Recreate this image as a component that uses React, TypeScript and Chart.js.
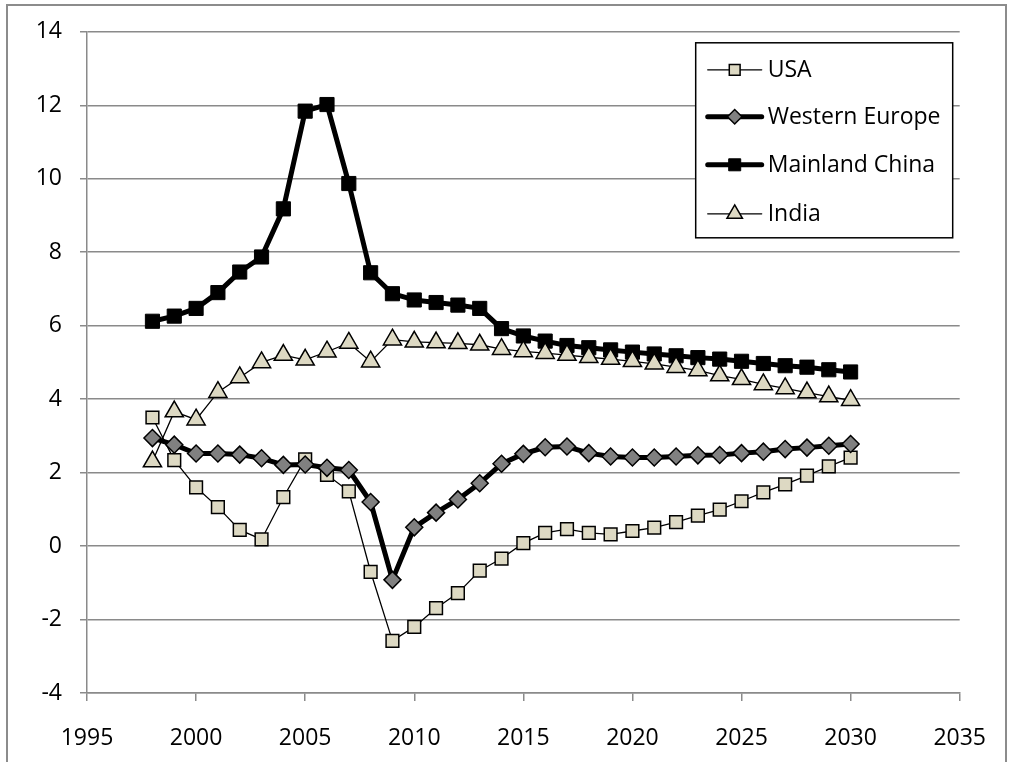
import React, { useEffect, useRef } from "react";
import { Chart, registerables } from "chart.js";

Chart.register(...registerables);

const years = [1998, 1999, 2000, 2001, 2002, 2003, 2004, 2005, 2006, 2007, 2008, 2009, 2010, 2011, 2012, 2013, 2014, 2015, 2016, 2017, 2018, 2019, 2020, 2021, 2022, 2023, 2024, 2025, 2026, 2027, 2028, 2029, 2030];

const usa = [3.5, 2.34, 1.6, 1.06, 0.44, 0.18, 1.33, 2.36, 1.94, 1.49, -0.7, -2.58, -2.2, -1.69, -1.28, -0.67, -0.34, 0.08, 0.36, 0.46, 0.36, 0.32, 0.41, 0.5, 0.65, 0.83, 0.99, 1.22, 1.46, 1.68, 1.92, 2.17, 2.41];

const westernEurope = [2.94, 2.76, 2.52, 2.52, 2.49, 2.39, 2.21, 2.22, 2.13, 2.07, 1.2, -0.92, 0.51, 0.91, 1.27, 1.71, 2.24, 2.51, 2.69, 2.71, 2.53, 2.44, 2.41, 2.41, 2.44, 2.47, 2.48, 2.53, 2.57, 2.64, 2.68, 2.73, 2.78];

const mainlandChina = [6.12, 6.26, 6.47, 6.9, 7.46, 7.87, 9.18, 11.84, 12.02, 9.87, 7.44, 6.87, 6.7, 6.63, 6.56, 6.47, 5.92, 5.72, 5.58, 5.46, 5.4, 5.34, 5.28, 5.23, 5.18, 5.13, 5.09, 5.03, 4.97, 4.91, 4.87, 4.8, 4.74];

const india = [2.3, 3.66, 3.44, 4.19, 4.59, 5.0, 5.2, 5.07, 5.29, 5.53, 5.02, 5.62, 5.56, 5.54, 5.52, 5.48, 5.36, 5.3, 5.25, 5.2, 5.14, 5.09, 5.03, 4.96, 4.87, 4.78, 4.64, 4.54, 4.4, 4.29, 4.18, 4.07, 3.97];

const xTickValues = [1995, 2000, 2005, 2010, 2015, 2020, 2025, 2030, 2035];
const yTickValues = [-4, -2, 0, 2, 4, 6, 8, 10, 12, 14];

const seriesLabels = ["USA", "Western Europe", "Mainland China", "India"];

const FONT = "'Open Sans', sans-serif";
const TAN = "#DDD9C3";
const GRID = "#8a8a8a";

const toPoints = (vals: number[]) => years.map((y, i) => ({ x: y, y: vals[i] }));

function drawMarker(ctx: CanvasRenderingContext2D, style: string, r: number, x: number, y: number) {
  ctx.beginPath();
  if (style === "rect") {
    const s = Math.SQRT1_2 * r;
    ctx.rect(x - s, y - s, 2 * s, 2 * s);
  } else if (style === "rectRot") {
    ctx.moveTo(x - r, y);
    ctx.lineTo(x, y - r);
    ctx.lineTo(x + r, y);
    ctx.lineTo(x, y + r);
    ctx.closePath();
  } else if (style === "triangle") {
    const a = (2 * Math.PI) / 3;
    ctx.moveTo(x, y - r);
    ctx.lineTo(x + Math.sin(a) * r, y - Math.cos(a) * r);
    ctx.lineTo(x + Math.sin(2 * a) * r, y - Math.cos(2 * a) * r);
    ctx.closePath();
  }
  ctx.fill();
  ctx.stroke();
}

const framePlugin = {
  id: "frame",
  beforeDraw(chart: any) {
    const ctx = chart.ctx;
    ctx.save();
    ctx.fillStyle = "#ffffff";
    ctx.fillRect(0, 0, chart.width, chart.height);
    ctx.strokeStyle = "#8c8c8c";
    ctx.lineWidth = 2;
    ctx.strokeRect(7, 5, 999, 800);
    ctx.restore();
  },
};

const legendPlugin = {
  id: "customLegend",
  afterDraw(chart: any) {
    const ctx = chart.ctx;
    const area = chart.chartArea;
    const x0 = area.right - 264;
    const y0 = area.top + 11;
    const w = 257;
    const h = 195;
    ctx.save();
    ctx.fillStyle = "#ffffff";
    ctx.fillRect(x0, y0, w, h);
    ctx.strokeStyle = "#000000";
    ctx.lineWidth = 1.5;
    ctx.strokeRect(x0, y0, w, h);
    const rows = [27, 74, 122, 171];
    chart.data.datasets.forEach((ds: any, k: number) => {
      const cy = y0 + rows[k];
      const lx0 = x0 + 12;
      const lx1 = x0 + 66;
      ctx.strokeStyle = "#000";
      ctx.lineWidth = ds.borderWidth;
      ctx.lineCap = "round";
      ctx.beginPath();
      ctx.moveTo(lx0, cy);
      ctx.lineTo(lx1, cy);
      ctx.stroke();
      ctx.lineCap = "butt";
      ctx.fillStyle = ds.pointBackgroundColor;
      ctx.strokeStyle = ds.pointBorderColor;
      ctx.lineWidth = ds.pointBorderWidth;
      drawMarker(ctx, ds.pointStyle, ds.pointRadius * 0.85, (lx0 + lx1) / 2, cy);
      ctx.fillStyle = "#000";
      ctx.font = `23px ${FONT}`;
      ctx.textBaseline = "middle";
      ctx.textAlign = "left";
      ctx.fillText(ds.label, x0 + 72, cy + 1);
    });
    ctx.restore();
  },
};

export default function App() {
  const canvasRef = useRef<HTMLCanvasElement | null>(null);

  useEffect(() => {
    if (!canvasRef.current) return;
    const chart = new Chart(canvasRef.current, {
      type: "line",
      data: {
        datasets: [
          {
            label: seriesLabels[0],
            data: toPoints(usa),
            borderColor: "#000",
            borderWidth: 1.3,
            pointStyle: "rect",
            pointRadius: 9,
            pointBackgroundColor: TAN,
            pointBorderColor: "#000",
            pointBorderWidth: 1.5,
            order: 4,
          },
          {
            label: seriesLabels[1],
            data: toPoints(westernEurope),
            borderColor: "#000",
            borderWidth: 5,
            borderJoinStyle: "round",
            pointStyle: "rectRot",
            pointRadius: 8.5,
            pointBackgroundColor: "#808080",
            pointBorderColor: "#000",
            pointBorderWidth: 1.5,
            order: 3,
          },
          {
            label: seriesLabels[2],
            data: toPoints(mainlandChina),
            borderColor: "#000",
            borderWidth: 5,
            borderJoinStyle: "round",
            pointStyle: "rect",
            pointRadius: 10,
            pointBackgroundColor: "#000",
            pointBorderColor: "#000",
            pointBorderWidth: 1,
            order: 2,
          },
          {
            label: seriesLabels[3],
            data: toPoints(india),
            borderColor: "#000",
            borderWidth: 1.3,
            pointStyle: "triangle",
            pointRadius: 10.5,
            pointBackgroundColor: TAN,
            pointBorderColor: "#000",
            pointBorderWidth: 1.5,
            order: 1,
          },
        ] as any,
      },
      options: {
        responsive: false,
        animation: false,
        layout: { padding: { top: 22, right: 46, left: 0, bottom: 0 } },
        plugins: {
          legend: { display: false },
          tooltip: { enabled: false },
          title: { display: false },
        },
        scales: {
          x: {
            type: "linear",
            min: 1995,
            max: 2035,
            afterBuildTicks: (s: any) => {
              s.ticks = xTickValues.map((v) => ({ value: v }));
            },
            afterFit: (s: any) => {
              s.height = 69;
            },
            ticks: {
              callback: (v: any) => String(v),
              font: { family: FONT, size: 23 },
              color: "#000",
              padding: 24,
              maxRotation: 0,
            },
            grid: {
              drawOnChartArea: false,
              drawTicks: true,
              tickLength: 8,
              color: GRID,
              lineWidth: 1.5,
            },
            border: { display: true, color: GRID, width: 1.5 },
          },
          y: {
            type: "linear",
            min: -4,
            max: 14,
            afterBuildTicks: (s: any) => {
              s.ticks = yTickValues.map((v) => ({ value: v }));
            },
            afterFit: (s: any) => {
              s.width = 87;
            },
            ticks: {
              callback: (v: any) => String(v),
              font: { family: FONT, size: 23 },
              color: "#000",
              padding: 18,
            },
            grid: {
              color: GRID,
              lineWidth: 1.5,
              tickLength: 7,
            },
            border: { display: true, color: GRID, width: 1.5 },
          },
        },
      } as any,
      plugins: [framePlugin, legendPlugin],
    });
    return () => chart.destroy();
  }, []);

  return (
    <div style={{ position: "fixed", left: 0, top: 0, width: 1010, height: 762, background: "#fff" }}>
      <canvas ref={canvasRef} width={1010} height={762} style={{ display: "block" }} />
    </div>
  );
}
